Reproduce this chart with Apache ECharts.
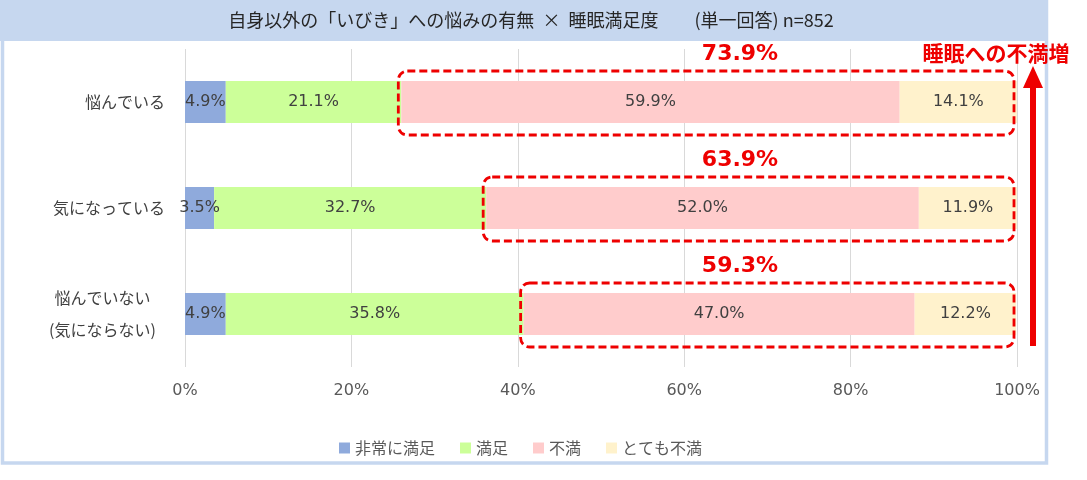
<!DOCTYPE html>
<html>
<head>
<meta charset="utf-8">
<script src="https://cdn.jsdelivr.net/npm/echarts@6/dist/echarts.min.js"></script>
<style>
  html, body { margin: 0; padding: 0; background: #fff; }
  #main { width: 1087px; height: 480px; }
</style>
</head>
<body>
<div id="main"></div>
<script>
// データ
const categories = ['悩んでいる', '気になっている', '悩んでいない\n(気にならない)'];
const seriesNames = ['非常に満足', '満足', '不満', 'とても不満'];
const verySatisfied = [4.9, 3.5, 4.9];
const satisfied = [21.1, 32.7, 35.8];
const dissatisfied = [59.9, 52.0, 47.0];
const veryDissatisfied = [14.1, 11.9, 12.2];
const dissatisfiedTotals = [73.9, 63.9, 59.3];
const xTicks = [0, 20, 40, 60, 80, 100];

const colors = ['#8faadc', '#ccff99', '#ffcccc', '#fff2cc'];
const FONT = '"DejaVu Sans", "Noto Sans CJK JP", sans-serif';
const JFONT = '"Noto Sans CJK JP", sans-serif';
const FRAME = '#c6d7ef';
const RED = '#ee0000';

const chart = echarts.init(document.getElementById('main'));

function makeSeries(name, data, i) {
    return {
        name,
        type: 'bar',
        stack: 'total',
        data,
        barWidth: 42,
        itemStyle: { color: colors[i] },
        label: {
            show: true,
            position: 'inside',
            formatter: (p) => p.value.toFixed(1) + '%',
            color: '#404040',
            fontSize: 16,
            fontFamily: FONT
        },
        emphasis: { disabled: true }
    };
}

const option = {
    animation: false,
    textStyle: { fontFamily: JFONT },
    grid: { left: 185, right: 70, top: 49, bottom: 113 },
    legend: {
        left: 334,
        top: 435,
        itemWidth: 11,
        itemHeight: 11,
        itemGap: 25,
        icon: 'rect',
        textStyle: { color: '#595959', fontSize: 16, fontFamily: JFONT },
        data: seriesNames
    },
    xAxis: {
        type: 'value',
        min: xTicks[0],
        max: xTicks[xTicks.length - 1],
        interval: 20,
        axisLine: { show: false },
        axisTick: { show: false },
        splitLine: { show: true, lineStyle: { color: '#d9d9d9', width: 1 } },
        axisLabel: {
            formatter: '{value}%',
            color: '#595959',
            fontSize: 16,
            margin: 16,
            fontFamily: FONT
        }
    },
    yAxis: {
        type: 'category',
        inverse: true,
        data: categories,
        axisLine: { show: false },
        axisTick: { show: false },
        axisLabel: {
            color: '#404040',
            fontSize: 16,
            margin: 20,
            lineHeight: 32,
            fontFamily: JFONT,
            formatter: (v) => v.indexOf('\n') < 0 ? v
                : v.split('\n').map((s) => '{c|' + s + '}').join('\n'),
            rich: {
                c: { width: 125, align: 'center', fontSize: 16, lineHeight: 32, color: '#404040', fontFamily: JFONT }
            }
        }
    },
    series: [
        makeSeries(seriesNames[0], verySatisfied, 0),
        makeSeries(seriesNames[1], satisfied, 1),
        makeSeries(seriesNames[2], dissatisfied, 2),
        makeSeries(seriesNames[3], veryDissatisfied, 3)
    ]
};

chart.setOption(option);

// 注釈（枠・点線ボックス・矢印）
const graphics = [
    { type: 'rect', z: -10, shape: { x: 0, y: 0, width: 1048, height: 41 }, style: { fill: FRAME } },
    { type: 'rect', z: -10, shape: { x: 2.5, y: 0, width: 1044, height: 463 }, style: { fill: null, stroke: FRAME, lineWidth: 3.5 } },
    {
        type: 'text', z: 10, x: 531, y: 20,
        style: {
            text: '自身以外の「いびき」への悩みの有無  ×  睡眠満足度　　(単一回答) n=852',
            fill: '#262626', font: '18px ' + JFONT, align: 'center', verticalAlign: 'middle'
        }
    }
];

let lastBottom = 0;
categories.forEach((c, i) => {
    const start = verySatisfied[i] + satisfied[i];
    const left = chart.convertToPixel({ gridIndex: 0 }, [start, i]);
    const right = chart.convertToPixel({ gridIndex: 0 }, [100, i]);
    const cy = left[1];
    const x0 = left[0] - 3;
    const x1 = right[0] - 3;
    graphics.push({
        type: 'rect', z: 20,
        shape: { x: x0, y: cy - 31, width: x1 - x0, height: 64, r: 9 },
        style: { fill: null, stroke: RED, lineWidth: 2.8, lineDash: [8, 4] }
    });
    graphics.push({
        type: 'text', z: 20, x: 740, y: cy - 48,
        style: {
            text: dissatisfiedTotals[i].toFixed(1) + '%',
            fill: RED, font: 'bold 22px ' + FONT, align: 'center', verticalAlign: 'middle'
        }
    });
    lastBottom = cy + 33;
});

// 矢印
graphics.push({
    type: 'rect', z: 20,
    shape: { x: 1030, y: 84, width: 6, height: lastBottom - 1 - 84 },
    style: { fill: RED }
});
graphics.push({
    type: 'polygon', z: 20,
    shape: { points: [[1033, 66], [1043, 88], [1023, 88]] },
    style: { fill: RED }
});
graphics.push({
    type: 'text', z: 20, x: 996, y: 53,
    style: {
        text: '睡眠への不満増',
        fill: RED, font: 'bold 21px ' + JFONT, align: 'center', verticalAlign: 'middle'
    }
});

chart.setOption({ graphic: graphics });
</script>
</body>
</html>
